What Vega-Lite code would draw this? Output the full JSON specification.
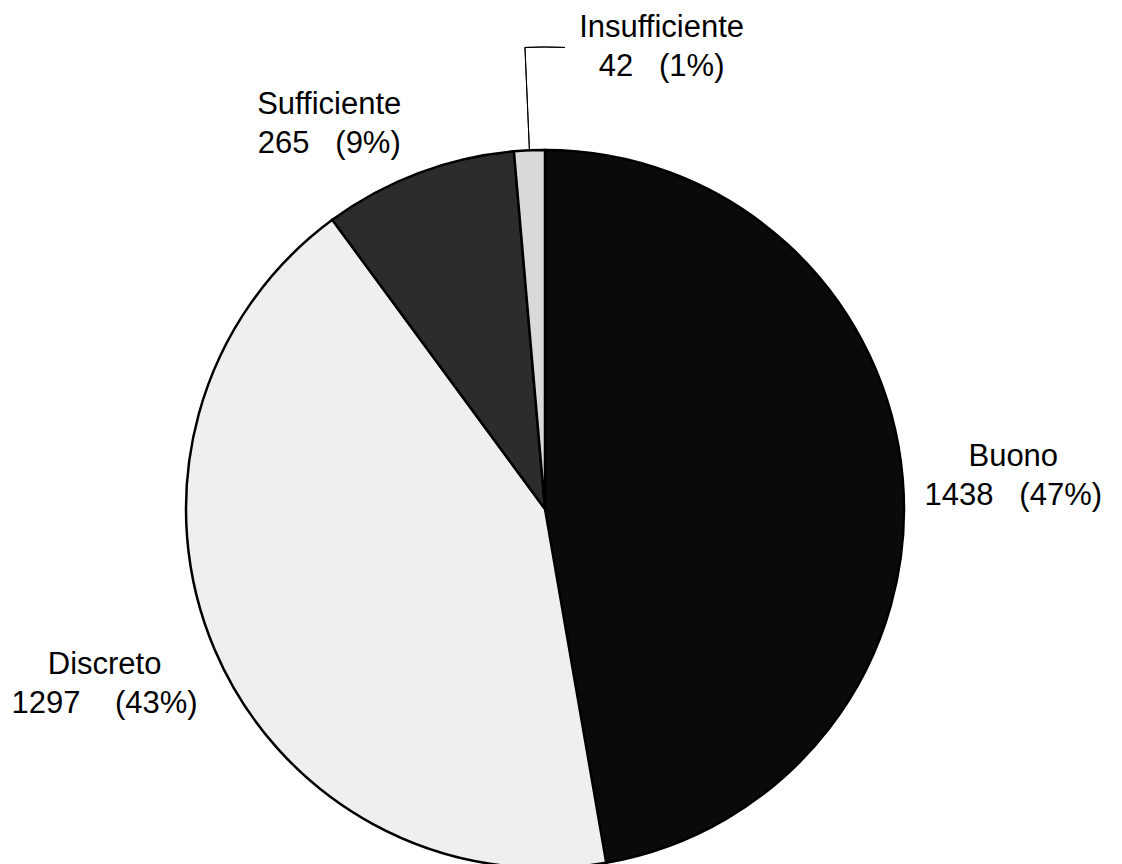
{
  "$schema": "https://vega.github.io/schema/vega-lite/v6.json",
  "autosize": {"type": "none"},
  "width": 1090,
  "height": 710,
  "padding": {"left": 0, "top": 154, "right": 32, "bottom": 0},
  "background": "white",
  "config": {"view": {"stroke": null}, "text": {"font": "Liberation Sans"}},
  "data": {
    "values": [
      {"category": "Buono", "count": 1438, "ord": 1, "label": "Buono\n1438\u00a0\u00a0\u00a0(47%)"},
      {"category": "Discreto", "count": 1297, "ord": 2, "label": "Discreto\n1297\u00a0\u00a0\u00a0\u00a0(43%)"},
      {"category": "Sufficiente", "count": 265, "ord": 3, "label": "Sufficiente\n265\u00a0\u00a0\u00a0(9%)"},
      {"category": "Insufficiente", "count": 42, "ord": 4, "label": "Insufficiente\n42\u00a0\u00a0\u00a0(1%)"}
    ]
  },
  "encoding": {
    "theta": {"field": "count", "type": "quantitative", "stack": true},
    "order": {"field": "ord", "type": "quantitative", "sort": "ascending"}
  },
  "layer": [
    {
      "mark": {"type": "arc", "radius": 359, "stroke": "black", "strokeWidth": 2.5},
      "encoding": {
        "color": {
          "field": "category",
          "type": "nominal",
          "legend": null,
          "scale": {
            "domain": ["Buono", "Discreto", "Sufficiente", "Insufficiente"],
            "range": ["#0a0a0a", "#efefef", "#2c2c2c", "#d9d9d9"]
          }
        }
      }
    },
    {
      "mark": {"type": "arc", "radius": 462, "radius2": 358, "padAngle": 0.1, "fill": "transparent", "stroke": "black", "strokeWidth": 1},
      "encoding": {
        "detail": {"field": "category", "type": "nominal"},
        "strokeOpacity": {"condition": {"test": "datum.category === 'Insufficiente'", "value": 1}, "value": 0}
      }
    },
    {
      "mark": {"type": "arc", "radius": 462, "radius2": 462, "thetaOffset": 0.0431, "theta2Offset": 0.0611, "fill": "transparent", "stroke": "black", "strokeWidth": 1},
      "encoding": {
        "detail": {"field": "category", "type": "nominal"},
        "strokeOpacity": {"condition": {"test": "datum.category === 'Insufficiente'", "value": 1}, "value": 0}
      }
    },
    {
      "mark": {"type": "text", "radius": 470, "fontSize": 31, "lineHeight": 39, "lineBreak": "\n", "baseline": "middle", "align": "center", "color": "black", "dx": 0, "dy": -12},
      "encoding": {
        "detail": {"field": "category", "type": "nominal"},
        "text": {"field": "label", "type": "nominal"},
        "opacity": {"condition": {"test": "datum.category === 'Buono'", "value": 1}, "value": 0}
      }
    },
    {
      "mark": {"type": "text", "radius": 470, "fontSize": 31, "lineHeight": 39, "lineBreak": "\n", "baseline": "middle", "align": "center", "color": "black", "dx": -8, "dy": -28},
      "encoding": {
        "detail": {"field": "category", "type": "nominal"},
        "text": {"field": "label", "type": "nominal"},
        "opacity": {"condition": {"test": "datum.category === 'Discreto'", "value": 1}, "value": 0}
      }
    },
    {
      "mark": {"type": "text", "radius": 470, "fontSize": 31, "lineHeight": 39, "lineBreak": "\n", "baseline": "middle", "align": "center", "color": "black", "dx": -50, "dy": 36},
      "encoding": {
        "detail": {"field": "category", "type": "nominal"},
        "text": {"field": "label", "type": "nominal"},
        "opacity": {"condition": {"test": "datum.category === 'Sufficiente'", "value": 1}, "value": 0}
      }
    },
    {
      "mark": {"type": "text", "radius": 470, "fontSize": 31, "lineHeight": 39, "lineBreak": "\n", "baseline": "middle", "align": "center", "color": "black", "dx": 137, "dy": -11},
      "encoding": {
        "detail": {"field": "category", "type": "nominal"},
        "text": {"field": "label", "type": "nominal"},
        "opacity": {"condition": {"test": "datum.category === 'Insufficiente'", "value": 1}, "value": 0}
      }
    }
  ]
}
